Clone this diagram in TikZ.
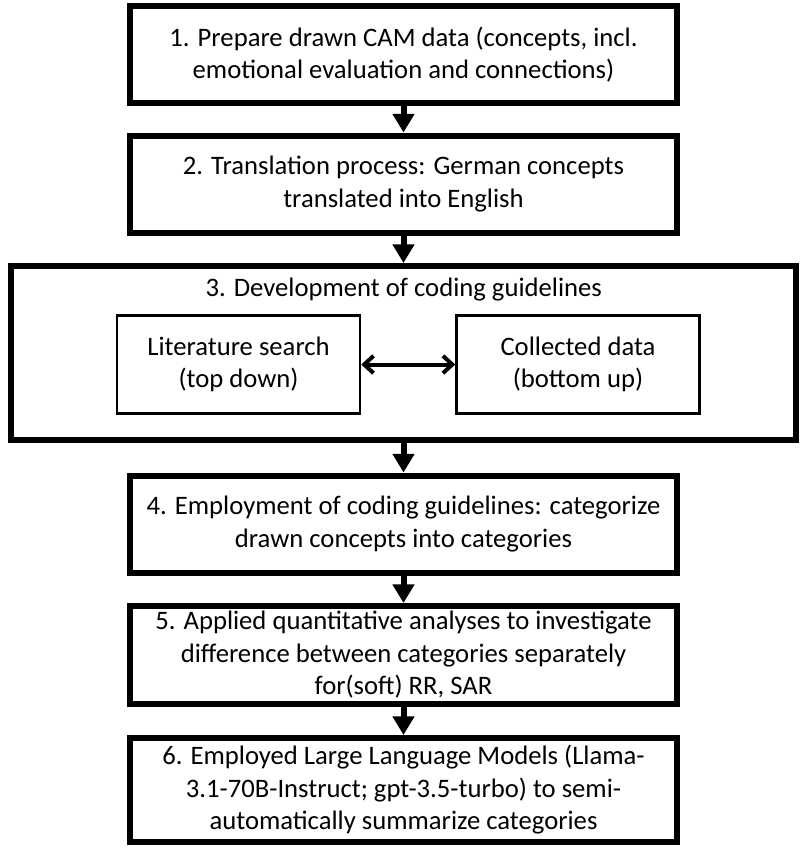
\documentclass[tikz,border=0pt]{standalone}
\usepackage{fontspec}
\setmainfont{Carlito}
\usetikzlibrary{arrows.meta}
\newcommand{\boxfont}{\fontsize{20}{24.4}\selectfont}

\begin{document}
\begin{tikzpicture}[x=0.75pt,y=-0.75pt,
    stepbox/.style={draw,line width=4.5pt,minimum width=410.25pt,minimum height=72.75pt,
      inner sep=0pt,align=center,font=\boxfont},
    subbox/.style={draw,line width=1.9pt,minimum width=182.25pt,minimum height=73.5pt,
      inner sep=0pt,align=center,font=\boxfont},
    flow/.style={line width=4.5pt,-{Triangle[width=15.75pt,length=14pt]}},
    both/.style={line width=3pt,{Straight Barb[length=7pt,width=13pt]}-{Straight Barb[length=7pt,width=13pt]}}]
  \useasboundingbox (0,0) rectangle (800,858);
  \node[stepbox] (prep) at (403.5,54.5)
    {1. Prepare drawn CAM data (concepts, incl.\\emotional evaluation and connections)};
  \node[stepbox] (trans) at (403.5,184)
    {2. Translation process: German concepts\\translated into English};
  \node[stepbox,minimum width=588.4pt,minimum height=130.5pt] (dev) at (403.75,353) {};
    \node[font=\boxfont,inner sep=0pt] (devtitle) at (403.75,290) {3. Development of coding guidelines};
    \node[subbox] (lit) at (238.5,364.5) {Literature search\\(top down)};
    \node[subbox] (coll) at (578,364.5) {Collected data\\(bottom up)};
  \node[stepbox] (employ) at (403.5,524)
    {4. Employment of coding guidelines: categorize\\drawn concepts into categories};
  \node[stepbox,minimum height=73.5pt] (quant) at (403.5,655)
    {5. Applied quantitative analyses to investigate\\difference between categories separately\\for(soft) RR, SAR};
  \node[stepbox,minimum height=78pt] (llm) at (403.5,790)
    {6. Employed Large Language Models (Llama-\\3.1-70B-Instruct; gpt-3.5-turbo) to semi-\\automatically summarize categories};
  % arrows between the steps
  \draw[flow] (prep) -- (trans);
  \draw[flow] (trans) -- (trans |- dev.north);
  \draw[flow] (employ |- dev.south) -- (employ);
  \draw[flow] (employ) -- (quant);
  \draw[flow] (quant) -- (llm);
  \draw[both] (lit) -- (coll);
\end{tikzpicture}
\end{document}
